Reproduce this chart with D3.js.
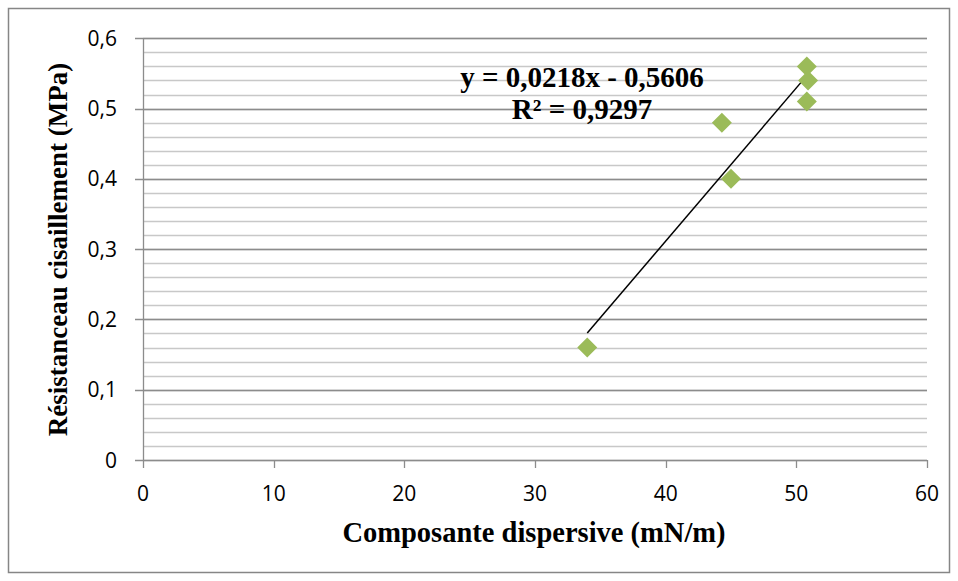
<!DOCTYPE html>
<html><head><meta charset="utf-8">
<script src="https://cdn.jsdelivr.net/npm/d3@7"></script>
<style>body{margin:0;background:#fff}</style>
</head><body>
<svg id="c" width="958" height="581"></svg>
<script>
const xVals = [34, 44.3, 45, 50.8, 50.9, 50.8];
const yVals = [0.16, 0.48, 0.40, 0.56, 0.54, 0.51];
const xTicks = [0, 10, 20, 30, 40, 50, 60];
const yTicks = [0, 0.1, 0.2, 0.3, 0.4, 0.5, 0.6];
const slope = 0.0218, intercept = -0.5606;
const eqLabel = "y = 0,0218x - 0,5606";
const r2Label = "R² = 0,9297";
const xTitle = "Composante dispersive (mN/m)";
const yTitle = "Résistanceau cisaillement (MPa)";

const svg = d3.select("#c");
svg.append("rect").attr("x",8.5).attr("y",8.5).attr("width",941).attr("height",564)
  .attr("fill","#fff").attr("stroke","#868686").attr("stroke-width",1.5);

const x = d3.scaleLinear().domain([0,60]).range([143,927]);
const y = d3.scaleLinear().domain([0,0.6]).range([460,38.3]);

// minor gridlines
const minor = d3.range(0, 0.6001, 0.02);
svg.append("g").selectAll("line").data(minor).join("line")
  .attr("x1",x(0)).attr("x2",x(60)).attr("y1",d=>Math.round(y(d))+0.5).attr("y2",d=>Math.round(y(d))+0.5)
  .attr("stroke","#c8c8c8").attr("stroke-width",1.3);
// major gridlines
svg.append("g").selectAll("line").data(yTicks).join("line")
  .attr("x1",x(0)-8).attr("x2",x(60)).attr("y1",d=>Math.round(y(d))+0.5).attr("y2",d=>Math.round(y(d))+0.5)
  .attr("stroke","#8c8c8c").attr("stroke-width",1.3);
// y axis line
svg.append("line").attr("x1",x(0)+0.5).attr("x2",x(0)+0.5).attr("y1",y(0.6)).attr("y2",y(0))
  .attr("stroke","#8c8c8c").attr("stroke-width",1.3);
// x axis ticks
svg.append("g").selectAll("line").data(xTicks).join("line")
  .attr("x1",d=>Math.round(x(d))+0.5).attr("x2",d=>Math.round(x(d))+0.5).attr("y1",y(0)).attr("y2",y(0)+8)
  .attr("stroke","#8c8c8c").attr("stroke-width",1.3);

const fmt = d => d3.format(".1f")(d).replace(".", ",");
svg.append("g").selectAll("text").data(yTicks).join("text")
  .attr("x",117).attr("y",d=>y(d)+7.5).attr("text-anchor","end")
  .attr("font-family","Open Sans, sans-serif").attr("font-size",21).attr("fill","#000")
  .text(d=> d===0 ? "0" : fmt(d));
svg.append("g").selectAll("text").data(xTicks).join("text")
  .attr("x",d=>x(d)).attr("y",y(0)+41).attr("text-anchor","middle")
  .attr("font-family","Open Sans, sans-serif").attr("font-size",21).attr("fill","#000")
  .text(d=>d);

// trend line
const tx0 = d3.min(xVals), tx1 = d3.max(xVals);
svg.append("line").attr("x1",x(tx0)).attr("y1",y(slope*tx0+intercept))
  .attr("x2",x(tx1)).attr("y2",y(slope*tx1+intercept)).attr("stroke","#000").attr("stroke-width",1.5);

// points
const pts = xVals.map((v,i)=>[v,yVals[i]]);
svg.append("g").selectAll("path").data(pts).join("path")
  .attr("d",d=>{const cx=x(d[0]), cy=y(d[1]), r=10; return `M${cx},${cy-r}L${cx+r},${cy}L${cx},${cy+r}L${cx-r},${cy}Z`;})
  .attr("fill","#9bbb59");

// equation
svg.append("text").attr("x",582).attr("y",87).attr("text-anchor","middle")
  .attr("font-family","Liberation Serif, serif").attr("font-weight","bold").attr("font-size",29).text(eqLabel);
svg.append("text").attr("x",582).attr("y",119).attr("text-anchor","middle")
  .attr("font-family","Liberation Serif, serif").attr("font-weight","bold").attr("font-size",29).text(r2Label);

// titles
svg.append("text").attr("x",534).attr("y",541.5).attr("text-anchor","middle")
  .attr("font-family","Liberation Serif, serif").attr("font-weight","bold").attr("font-size",28.5).text(xTitle);
svg.append("text").attr("transform","translate(67,249.5) rotate(-90)").attr("text-anchor","middle")
  .attr("font-family","Liberation Serif, serif").attr("font-weight","bold").attr("font-size",27).text(yTitle);
</script>
</body></html>
